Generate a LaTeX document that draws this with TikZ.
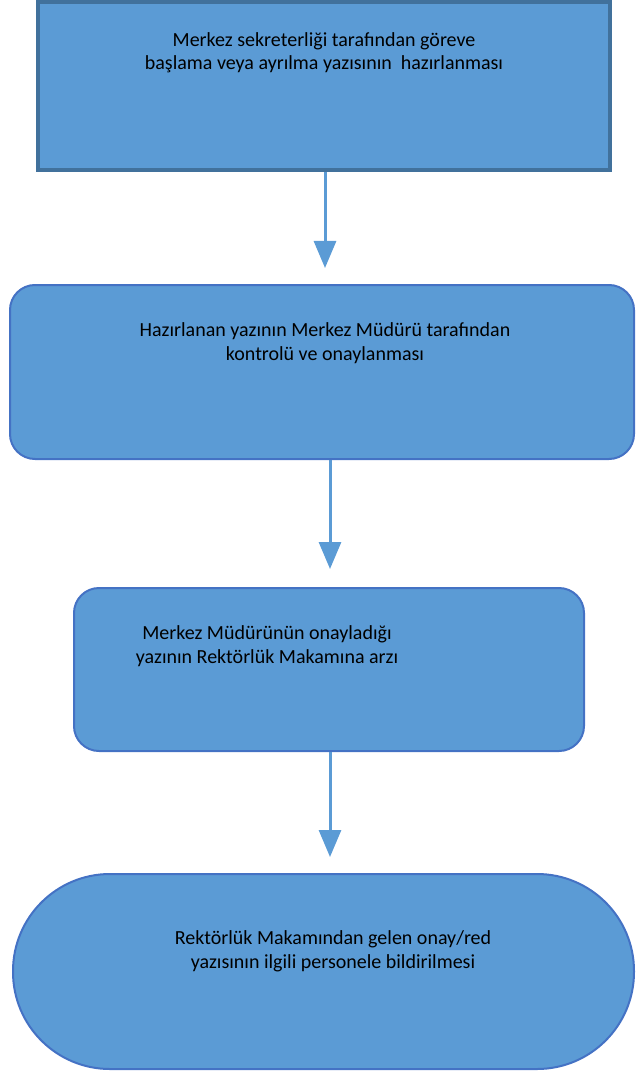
\documentclass[tikz,border=0pt]{standalone}
\usepackage{fontspec}
\setmainfont{Carlito}
\usetikzlibrary{arrows.meta}
\definecolor{boxfill}{HTML}{5B9BD5}
\definecolor{boxedge}{HTML}{4472C4}
\definecolor{darkedge}{HTML}{41719C}
\tikzset{
  stepbox/.style={draw=boxedge, fill=boxfill, line width=2pt, inner sep=0pt},
  steptext/.style={align=center, font=\fontsize{20}{24}\selectfont, inner sep=0pt, anchor=north},
  flowarrow/.style={->, draw=boxfill, line width=3pt}
}

\begin{document}
\begin{tikzpicture}[x=1pt, y=-1pt, >={Triangle[width=22pt,length=27pt]}]
  \useasboundingbox (0,0) rectangle (635,1075);

  % steps
  \node[stepbox, draw=darkedge, line width=4pt, minimum width=572pt, minimum height=168pt] (s1) at (324,86) {};
  \node[steptext, font=\fontsize{20}{23}\selectfont] (s1t) at (324,32) {Merkez sekreterliği tarafından göreve\\başlama veya ayrılma yazısının~~hazırlanması};

  \node[stepbox, rounded corners=25pt, minimum width=624pt, minimum height=174pt] (s2) at (322,372) {};
  \node[steptext] (s2t) at (325,322) {Hazırlanan yazının Merkez Müdürü tarafından\\kontrolü ve onaylanması};

  \node[stepbox, rounded corners=25pt, minimum width=510pt, minimum height=163pt] (s3) at (329,669.5) {};
  \node[steptext] (s3t) at (267,625) {Merkez Müdürünün onayladığı\\yazının Rektörlük Makamına arzı};

  \node[stepbox, rounded corners=97pt, minimum width=621pt, minimum height=195pt] (s4) at (323.5,971.5) {};
  \node[steptext] (s4t) at (333,930) {Rektörlük Makamından gelen onay/red\\yazısının ilgili personele bildirilmesi};

  % arrows
  \draw[flowarrow, shorten >=16pt] ([xshift=1pt]s1.south) -- ([xshift=1pt]s1.south |- s2.north);
  \draw[flowarrow, shorten >=18pt] ([xshift=8pt]s2.south) -- ([xshift=8pt]s2.south |- s3.north);
  \draw[flowarrow, shorten >=16pt] ([xshift=1pt]s3.south) -- ([xshift=1pt]s3.south |- s4.north);
\end{tikzpicture}
\end{document}
